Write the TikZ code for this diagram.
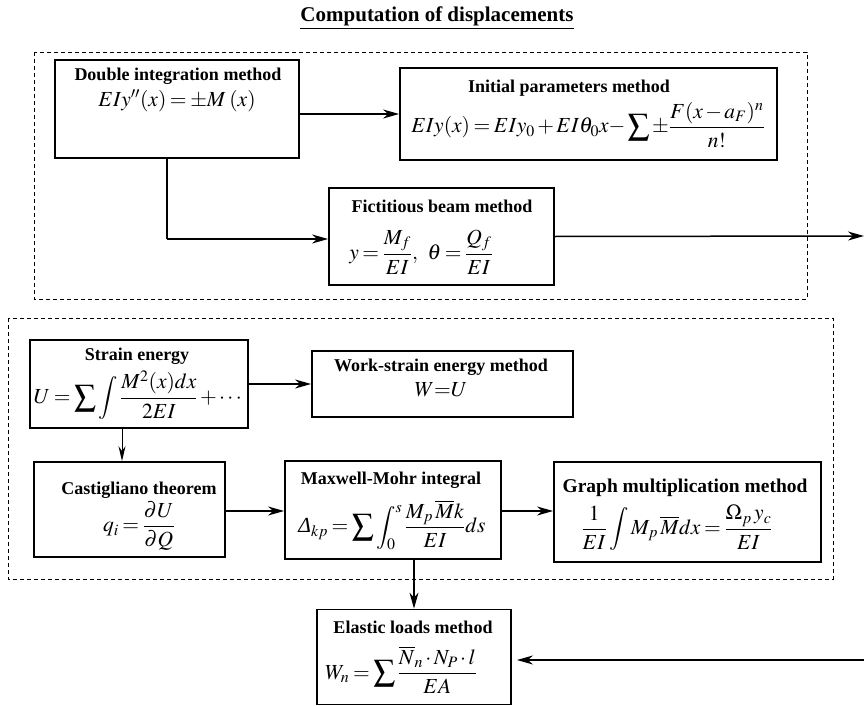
\documentclass[tikz,border=0pt]{standalone}
\usepackage{amsmath}
\usepackage{mathptmx}
\usepackage[no-math]{fontspec}
\setmainfont{Liberation Serif}
\usetikzlibrary{arrows.meta}
\newcommand{\tightmath}{\thickmuskip=3mu plus 1mu\medmuskip=2mu plus 1mu}
\tikzset{
  box/.style={draw, line width=1.8pt, inner sep=0pt},
  dbox/.style={draw, line width=0.8pt, dash pattern=on 4pt off 3pt},
  arr/.style={line width=1.5pt, -{Stealth[length=16pt,width=9pt,inset=5pt]}},
  thinarr/.style={line width=1pt, -{Stealth[length=15pt,width=7pt,inset=5pt]}},
  ttl/.style={font=\fontsize{18}{20}\selectfont\bfseries, inner sep=0pt},
  frm/.style={font=\fontsize{21.5}{23}\selectfont\tightmath, inner sep=0pt},
}
\begin{document}
\begin{tikzpicture}[x=1pt,y=-1pt]
\useasboundingbox (0,0) rectangle (864,706);
% dashed groups
\draw[dbox] (34,52) rectangle (807,299);
\draw[dbox] (8,318) rectangle (833,579);
% title
\node[font=\fontsize{21}{23}\selectfont\bfseries, inner sep=0pt] (title) at (437,18) {\underline{Computation of displacements}};
% boxes
\node[box, minimum width=244pt, minimum height=98pt] (dbl) at (177,109) {};
\node[box, minimum width=377pt, minimum height=92pt] (init) at (588.5,114) {};
\node[box, minimum width=225pt, minimum height=97pt] (fict) at (441.5,236.5) {};
\node[box, minimum width=218pt, minimum height=88pt] (strain) at (139,384) {};
\node[box, minimum width=261pt, minimum height=66pt] (work) at (442.5,384) {};
\node[box, minimum width=191pt, minimum height=95pt] (cast) at (129.5,509.5) {};
\node[box, minimum width=216pt, minimum height=98pt] (max) at (393,510) {};
\node[box, minimum width=267pt, minimum height=100pt] (graph) at (687.5,512) {};
\node[box, minimum width=194pt, minimum height=95pt] (elastic) at (414,657) {};
% texts
\node[ttl] (tdbl) at (178,76) {Double integration method};
\node[frm] (fdbl) at (177,101) {$EIy''(x)=\pm M\;(x)$};
\node[ttl] (tinit) at (569,88) {Initial parameters method};
\node[frm] (finit) at (588,125) {$EIy(x)=EIy_0+EI\theta_0x{-}\displaystyle\sum\pm\frac{F(x-a_F)^n}{n!}$};
\node[ttl] (tfict) at (442,206) {Fictitious beam method};
\node[frm] (ffict) at (421,252) {$y=\dfrac{M_f}{EI},\;\;\theta=\dfrac{Q_f}{EI}$};
\node[ttl] (tstrain) at (137,356) {Strain energy};
\node[frm] (fstrain) at (139,395) {$U=\displaystyle\sum\int\frac{M^2(x)dx}{2EI}+\cdots$};
\node[ttl] (twork) at (441,367) {Work-strain energy method};
\node[frm] (fwork) at (441,390) {$W{=}U$};
\node[ttl] (tcast) at (139,490) {Castigliano theorem};
\node[frm] (fcast) at (139,526) {$q_i=\dfrac{\partial U}{\partial Q}$};
\node[ttl] (tmax) at (391,480) {Maxwell-Mohr integral};
\node[frm] (fmax) at (392,525) {$\mbox{\itshape Δ}_{kp}=\displaystyle\sum\int_0^s\frac{M_p\,\overline{M}k}{EI}ds$};
\node[ttl, font=\fontsize{19.5}{21}\selectfont\bfseries] (tgraph) at (685,488) {Graph multiplication method};
\node[frm] (fgraph) at (677,528) {$\dfrac{1}{EI}\displaystyle\int M_p\,\overline{M}dx=\frac{\Omega_p\,y_c}{EI}$};
\node[ttl] (telastic) at (413,627) {Elastic loads method};
\node[frm] (felastic) at (401,670) {$W_n=\displaystyle\sum\frac{\overline{N}_n\cdot N_P\cdot l}{EA}$};
% connectors
\coordinate (outR) at (864,236);
\coordinate (inR) at (864,660);
\coordinate (bend) at (167,239);
\draw[arr] (dbl.east |- init.west) -- (init.west);
\draw[line width=1.5pt] (dbl.south -| bend) -- (bend);
\draw[arr] (bend) -- (fict.west |- bend);
\draw[arr] (fict.east) -- (outR);
\draw[arr] (inR) -- ([xshift=5pt]elastic.east |- inR);
\draw[arr] (strain.east) -- (work.west);
\draw[thinarr] (strain.south -| 122,0) -- (cast.north -| 122,0);
\draw[arr] (cast.east |- 0,511) -- (max.west |- 0,511);
\draw[arr] (max.east |- 0,511) -- (graph.west |- 0,511);
\draw[arr, line width=1.2pt] (max.south -| elastic.north) -- (elastic.north);
\end{tikzpicture}
\end{document}
